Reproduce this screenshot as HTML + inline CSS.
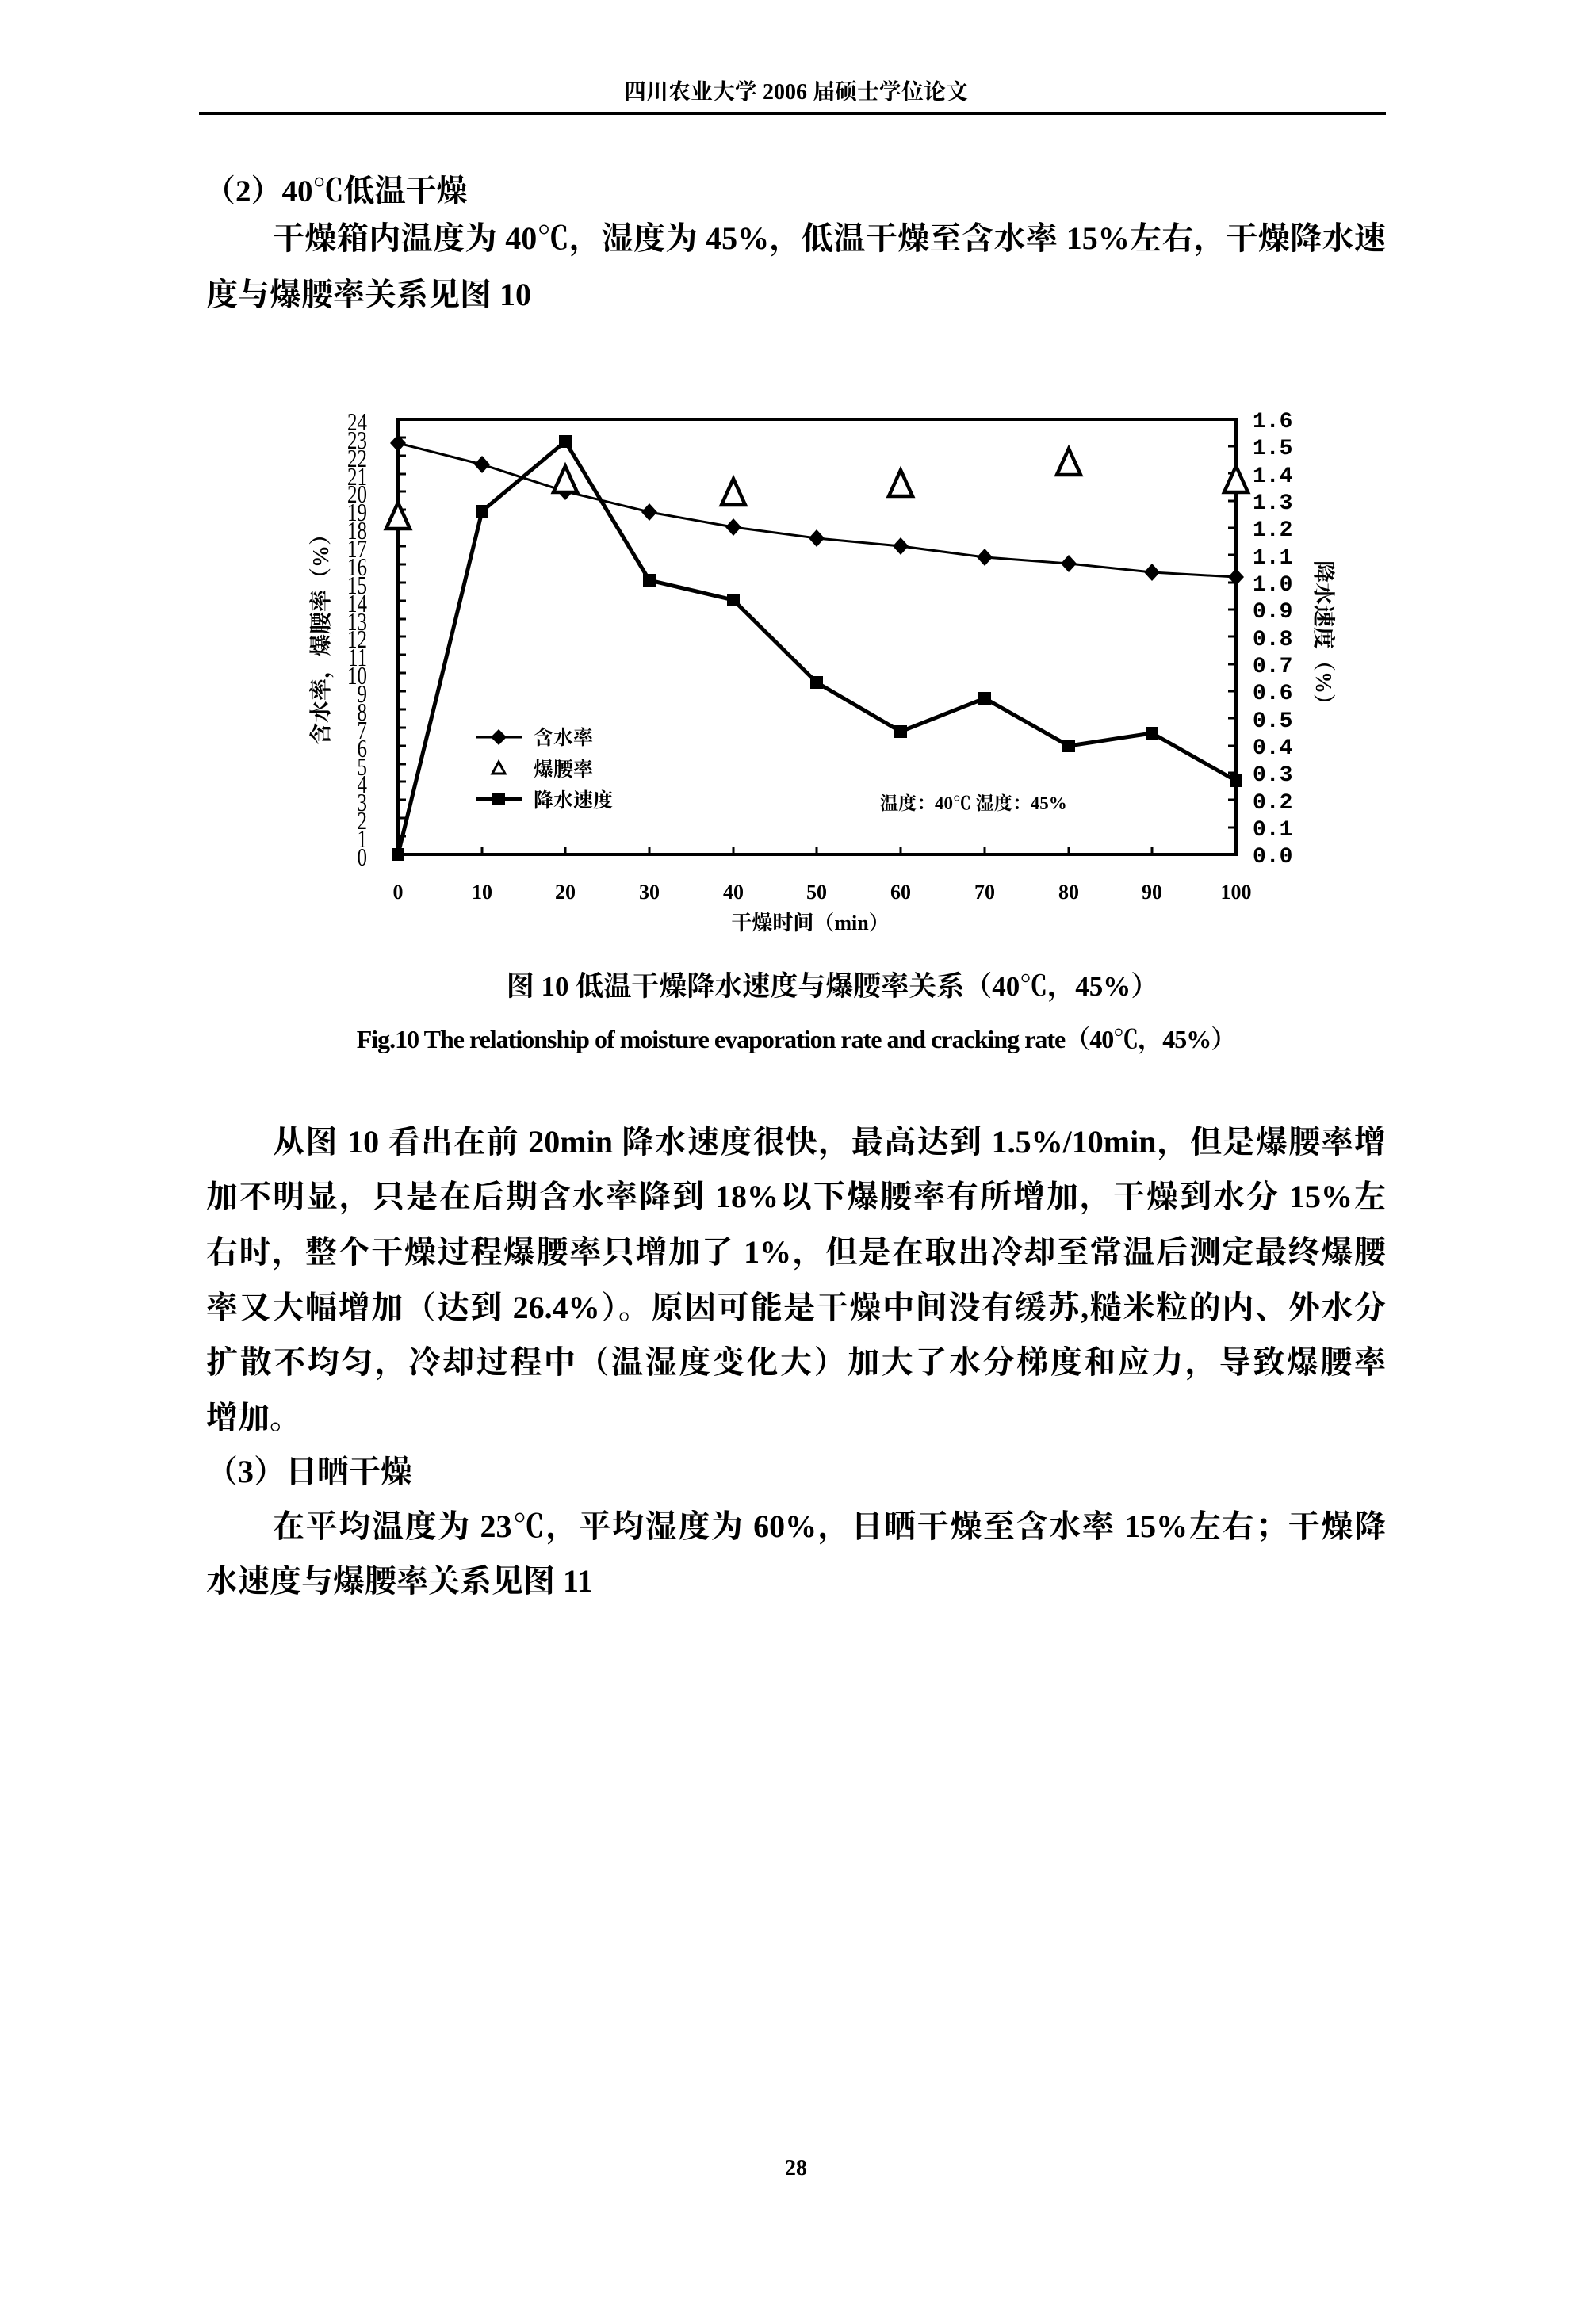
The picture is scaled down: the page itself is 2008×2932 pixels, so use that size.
<!DOCTYPE html>
<html><head><meta charset="utf-8"><style>
html,body{margin:0;padding:0;background:#fff}
body{width:2008px;height:2932px;position:relative;overflow:hidden;font-family:"Liberation Serif","Noto Serif CJK SC",serif;color:#000}
.t{position:absolute;white-space:nowrap}
.ln{position:absolute;left:260px;width:1488px;font-size:40px;line-height:48px;text-align:justify;text-align-last:justify;white-space:nowrap;font-weight:bold}
.ln.l{text-align-last:left}
</style></head><body>
<div class="t" style="left:0;width:2008px;text-align:center;top:94px;font-size:28px;font-weight:bold">四川农业大学 2006 届硕士学位论文</div>
<div style="position:absolute;left:251px;top:141px;width:1497px;height:4px;background:#000"></div>
<div class="t" style="left:258px;top:210px;font-size:39px;font-weight:bold">（2）40℃低温干燥</div>
<div class="ln" style="left:344px;width:1404px;top:277px">干燥箱内温度为 40℃，湿度为 45%，低温干燥至含水率 15%左右，干燥降水速</div>
<div class="ln l" style="top:348px">度与爆腰率关系见图 10</div>

<svg style="position:absolute;left:0;top:0" width="2008" height="1400" viewBox="0 0 2008 1400" font-family="Liberation Serif, Noto Serif CJK SC, serif" font-weight="bold">
<rect x="502" y="529" width="1057" height="549" fill="none" stroke="#000" stroke-width="4"/>
<g stroke="#000" stroke-width="3">
<path d="M502 552h10M502 575h10M502 598h10M502 620h10M502 643h10M502 666h10M502 689h10M502 712h10M502 735h10M502 758h10M502 781h10M502 803h10M502 826h10M502 849h10M502 872h10M502 895h10M502 918h10M502 941h10M502 964h10M502 986h10M502 1009h10M502 1032h10M502 1055h10"/>
<path d="M1559 563h-10M1559 597h-10M1559 632h-10M1559 666h-10M1559 700h-10M1559 735h-10M1559 769h-10M1559 803h-10M1559 838h-10M1559 872h-10M1559 906h-10M1559 941h-10M1559 975h-10M1559 1009h-10M1559 1044h-10"/>
<path d="M608 1078v-10M713 1078v-10M819 1078v-10M925 1078v-10M1030 1078v-10M1136 1078v-10M1242 1078v-10M1348 1078v-10M1453 1078v-10"/>
</g>
<g font-size="32" font-weight="normal" text-anchor="end" transform="translate(463,0) scale(0.78,1) translate(-463,0)">
<text x="463" y="543">24</text><text x="463" y="566">23</text><text x="463" y="589">22</text><text x="463" y="612">21</text><text x="463" y="634">20</text><text x="463" y="657">19</text><text x="463" y="680">18</text><text x="463" y="703">17</text><text x="463" y="726">16</text><text x="463" y="749">15</text><text x="463" y="772">14</text><text x="463" y="795">13</text><text x="463" y="817">12</text><text x="463" y="840">11</text><text x="463" y="863">10</text><text x="463" y="886">9</text><text x="463" y="909">8</text><text x="463" y="932">7</text><text x="463" y="955">6</text><text x="463" y="978">5</text><text x="463" y="1000">4</text><text x="463" y="1023">3</text><text x="463" y="1046">2</text><text x="463" y="1069">1</text><text x="463" y="1092">0</text>
</g>
<g font-size="28" font-family="Liberation Mono, monospace">
<text x="1580" y="539">1.6</text><text x="1580" y="573">1.5</text><text x="1580" y="608">1.4</text><text x="1580" y="642">1.3</text><text x="1580" y="676">1.2</text><text x="1580" y="711">1.1</text><text x="1580" y="745">1.0</text><text x="1580" y="779">0.9</text><text x="1580" y="814">0.8</text><text x="1580" y="848">0.7</text><text x="1580" y="882">0.6</text><text x="1580" y="917">0.5</text><text x="1580" y="951">0.4</text><text x="1580" y="985">0.3</text><text x="1580" y="1020">0.2</text><text x="1580" y="1054">0.1</text><text x="1580" y="1088">0.0</text>
</g>
<g font-size="26" text-anchor="middle">
<text x="502" y="1134">0</text><text x="608" y="1134">10</text><text x="713" y="1134">20</text><text x="819" y="1134">30</text><text x="925" y="1134">40</text><text x="1030" y="1134">50</text><text x="1136" y="1134">60</text><text x="1242" y="1134">70</text><text x="1348" y="1134">80</text><text x="1453" y="1134">90</text><text x="1559" y="1134">100</text>
<text x="1022" y="1173" font-size="26">干燥时间（min）</text>
</g>
<text font-size="28" text-anchor="middle" transform="translate(414,800) rotate(-90)">含水率，爆腰率（%）</text>
<text font-size="28" text-anchor="middle" transform="translate(1660,805) rotate(90)">降水速度（%）</text>
<polyline fill="none" stroke="#000" stroke-width="3" points="502,559 608,586 713,620 819,646 925,665 1030,679 1136,689 1242,703 1348,711 1453,722 1559,728"/>
<g fill="#000">
<path d="M502 548l10 11-10 11-10-11z"/><path d="M608 575l10 11-10 11-10-11z"/><path d="M713 609l10 11-10 11-10-11z"/><path d="M819 635l10 11-10 11-10-11z"/><path d="M925 654l10 11-10 11-10-11z"/><path d="M1030 668l10 11-10 11-10-11z"/><path d="M1136 678l10 11-10 11-10-11z"/><path d="M1242 692l10 11-10 11-10-11z"/><path d="M1348 700l10 11-10 11-10-11z"/><path d="M1453 711l10 11-10 11-10-11z"/><path d="M1559 717l10 11-10 11-10-11z"/>
</g>
<polyline fill="none" stroke="#000" stroke-width="5" points="502,1078 608,645 713,557 819,732 925,757 1030,861 1136,923 1242,881 1348,941 1453,925 1559,985"/>
<g fill="#000">
<rect x="494" y="1070" width="16" height="16"/><rect x="600" y="637" width="16" height="16"/><rect x="705" y="549" width="16" height="16"/><rect x="811" y="724" width="16" height="16"/><rect x="917" y="749" width="16" height="16"/><rect x="1022" y="853" width="16" height="16"/><rect x="1128" y="915" width="16" height="16"/><rect x="1234" y="873" width="16" height="16"/><rect x="1340" y="933" width="16" height="16"/><rect x="1445" y="917" width="16" height="16"/><rect x="1551" y="977" width="16" height="16"/>
</g>
<g fill="#fff" stroke="#000" stroke-width="4.5">
<path d="M502 634l15 33h-30z"/><path d="M713 588l15 33h-30z"/><path d="M925 604l15 33h-30z"/><path d="M1136 593l15 33h-30z"/><path d="M1348 566l15 33h-30z"/><path d="M1559 588l15 33h-30z"/>
</g>
<g stroke="#000" stroke-width="3"><path d="M600 930h59"/><path d="M600 1008h59" stroke-width="5"/></g>
<path d="M629 920l10 10-10 10-10-10z" fill="#000"/>
<path d="M629 961l8 15h-16z" fill="#fff" stroke="#000" stroke-width="3"/>
<rect x="621" y="1000" width="16" height="16" fill="#000"/>
<g font-size="25"><text x="673" y="939">含水率</text><text x="673" y="979">爆腰率</text><text x="673" y="1018">降水速度</text>
<text x="1110" y="1021" font-size="23">温度：40℃ 湿度：45%</text></g>
</svg>

<div class="t" style="left:0;width:2100px;text-align:center;top:1217px;font-size:35px;font-weight:bold">图 10 低温干燥降水速度与爆腰率关系（40℃，45%）</div>
<div class="t" style="left:0;width:2008px;text-align:center;top:1286px;font-size:32px;font-weight:bold;letter-spacing:-1px">Fig.10 The relationship of moisture evaporation rate and cracking rate（40℃，45%）</div>

<div class="ln" style="left:344px;width:1404px;top:1417px">从图 10 看出在前 20min 降水速度很快，最高达到 1.5%/10min，但是爆腰率增</div>
<div class="ln" style="top:1486px">加不明显，只是在后期含水率降到 18%以下爆腰率有所增加，干燥到水分 15%左</div>
<div class="ln" style="top:1556px">右时，整个干燥过程爆腰率只增加了 1%，但是在取出冷却至常温后测定最终爆腰</div>
<div class="ln" style="top:1626px">率又大幅增加（达到 26.4%）。原因可能是干燥中间没有缓苏,糙米粒的内、外水分</div>
<div class="ln" style="top:1695px">扩散不均匀，冷却过程中（温湿度变化大）加大了水分梯度和应力，导致爆腰率</div>
<div class="ln l" style="top:1765px">增加。</div>
<div class="ln l" style="top:1833px">（3）日晒干燥</div>
<div class="ln" style="left:344px;width:1404px;top:1902px">在平均温度为 23℃，平均湿度为 60%，日晒干燥至含水率 15%左右；干燥降</div>
<div class="ln l" style="top:1971px">水速度与爆腰率关系见图 11</div>
<div class="t" style="left:990px;top:2720px;font-size:28px;font-weight:bold">28</div>
</body></html>
